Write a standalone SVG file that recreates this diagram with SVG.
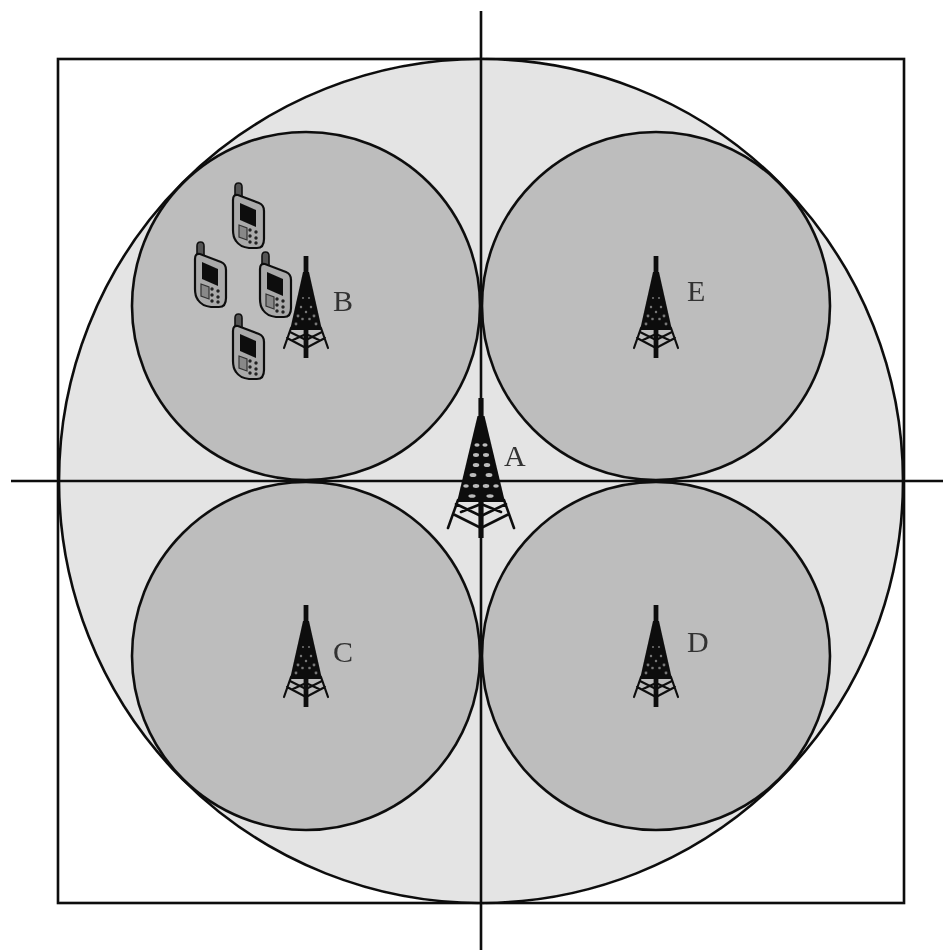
<svg xmlns="http://www.w3.org/2000/svg" width="943" height="950" viewBox="0 0 943 950">
<style>
.ln{fill:none;stroke:#111;stroke-width:2.6}
.cell{fill:#bdbdbd;stroke:#111;stroke-width:2.6}
.lbl{font-family:"Liberation Serif","Times New Roman",serif;font-size:30px;fill:#333}
.t{fill:none;stroke:#111;stroke-linecap:round;stroke-linejoin:round}
</style>
<defs>
<filter id="soft" x="-5%" y="-5%" width="110%" height="110%"><feGaussianBlur stdDeviation="0.7"/></filter>
<g id="tower">
<path d="M-2.4 0H2.4V102H-2.4Z" fill="#111"/>
<path d="M-3 16L3 16L16 74L-16 74Z" fill="#111"/>
<g fill="#777">
<circle cx="-3" cy="42" r="1"/><circle cx="3" cy="42" r="1"/><circle cx="-5" cy="51" r="1.2"/><circle cx="5" cy="51" r="1.2"/><circle cx="0" cy="56" r="1.2"/><circle cx="-8" cy="60" r="1.4"/><circle cx="8" cy="60" r="1.4"/><circle cx="-3.5" cy="63" r="1.3"/><circle cx="3.5" cy="63" r="1.3"/><circle cx="-10" cy="68" r="1.4"/><circle cx="10" cy="68" r="1.4"/>
</g>
<path class="t" stroke-width="2.2" d="M-15 72L-22 92M15 72L22 92M-19 82L0 92L19 82M-16 76L0 84L16 76M-13 84L0 78L13 84"/>
</g>
<g id="towerA">
<path d="M-2.6 0H2.6V140H-2.6Z" fill="#111"/>
<path d="M-3.5 18L3.5 18L24 104L-24 104Z" fill="#111"/>
<g fill="#bbb">
<ellipse cx="-4" cy="47" rx="2.6" ry="1.7"/><ellipse cx="4" cy="47" rx="2.6" ry="1.7"/>
<ellipse cx="-5" cy="57" rx="3" ry="1.9"/><ellipse cx="5" cy="57" rx="3" ry="1.9"/>
<ellipse cx="-5" cy="67" rx="3.2" ry="2"/><ellipse cx="6" cy="67" rx="3.2" ry="2"/>
<ellipse cx="-8" cy="77" rx="3.4" ry="2"/><ellipse cx="8" cy="77" rx="3.4" ry="2"/>
<ellipse cx="-15" cy="88" rx="2.8" ry="1.8"/><ellipse cx="-5" cy="88" rx="3.2" ry="1.9"/><ellipse cx="5" cy="88" rx="3.2" ry="1.9"/><ellipse cx="15" cy="88" rx="2.8" ry="1.8"/>
<ellipse cx="-9" cy="98" rx="3.6" ry="1.8"/><ellipse cx="9" cy="98" rx="3.6" ry="1.8"/>
</g>
<path class="t" stroke-width="2.6" d="M-23 102L-33 130M23 102L33 130M-28 116L0 130L28 116M-25 106L0 118L25 106M-20 114L0 106L20 114"/>
</g>
<g id="phone">
<path d="M3 14V4Q3 0 6.5 0Q10 0 10 4V15Z" fill="#555" stroke="#111" stroke-width="1.6"/>
<path d="M1 17Q1 11 6 12L27 20Q32 22 32 28V56Q32 65 25 65H17Q8 64 4 58Q1 54 1 47Z" fill="#aaa" stroke="#111" stroke-width="2.2"/>
<path d="M8 20L24 27V44L8 37Z" fill="#111"/>
<path d="M7 42L15 45V57L7 54Z" fill="#888" stroke="#333" stroke-width="1.2"/>
<g fill="#222">
<circle cx="18" cy="47" r="1.7"/><circle cx="24" cy="49" r="1.7"/><circle cx="18" cy="53" r="1.7"/><circle cx="24" cy="55" r="1.7"/><circle cx="18" cy="59" r="1.7"/><circle cx="24" cy="60" r="1.7"/>
</g>
</g>
</defs>
<rect width="943" height="950" fill="#fff"/>
<g filter="url(#soft)">
<g id="area">
<rect class="ln" x="58" y="59" width="846" height="844"/>
<circle cx="481" cy="481" r="422" fill="#e4e4e4" stroke="#111" stroke-width="2.6"/>
</g>
<g id="cell-B"><circle class="cell" cx="306" cy="306" r="174"/></g>
<g id="cell-E"><circle class="cell" cx="656" cy="306" r="174"/></g>
<g id="cell-C"><circle class="cell" cx="306" cy="656" r="174"/></g>
<g id="cell-D"><circle class="cell" cx="656" cy="656" r="174"/></g>
<g id="connectors">
<path class="ln" d="M481 11V950M11 481H943"/>
</g>
<g id="node-A"><use href="#towerA" x="481" y="398"/><text class="lbl" x="504" y="466">A</text></g>
<g id="node-B"><use href="#tower" x="306" y="256"/><text class="lbl" x="333" y="311">B</text></g>
<g id="node-E"><use href="#tower" x="656" y="256"/><text class="lbl" x="687" y="301">E</text></g>
<g id="node-C"><use href="#tower" x="306" y="605"/><text class="lbl" x="333" y="662">C</text></g>
<g id="node-D"><use href="#tower" x="656" y="605"/><text class="lbl" x="687" y="652">D</text></g>
<g id="phones">
<use href="#phone" x="232" y="183"/>
<use href="#phone" x="194" y="242"/>
<use href="#phone" x="259" y="252"/>
<use href="#phone" x="232" y="314"/>
</g>
</g>
</svg>
